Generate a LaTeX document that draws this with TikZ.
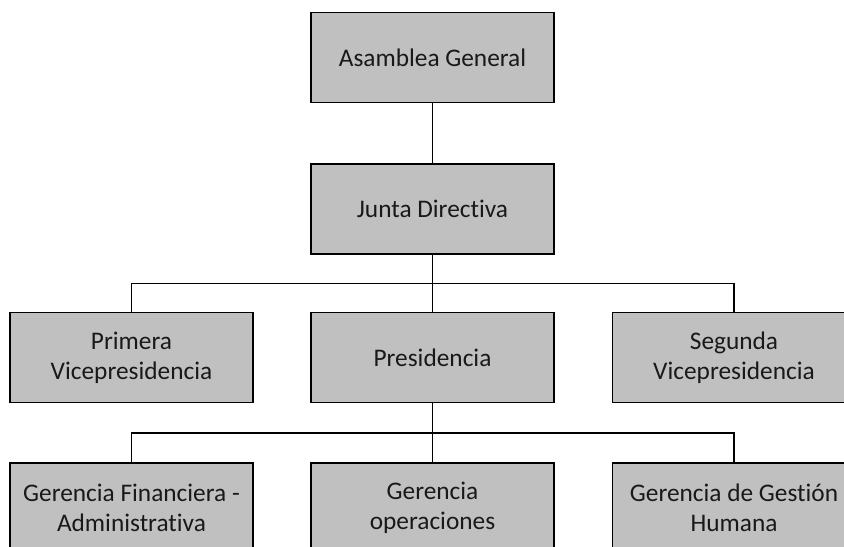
\documentclass[tikz,border=0pt]{standalone}
\usepackage{fontspec}
\setmainfont{Carlito}[Ligatures=NoCommon]
\begin{document}
\begin{tikzpicture}[x=0.75pt,y=-0.75pt,
  orgbox/.style={draw=black, line width=1.3pt, fill=boxgray, rectangle,
    minimum width=243*0.75pt, minimum height=90*0.75pt, inner sep=0pt,
    align=center, font=\fontsize{19}{22.5}\selectfont, text=black!90},
  conn/.style={draw=black, line width=1.3pt}]
\definecolor{boxgray}{RGB}{192,192,192}
\path[use as bounding box, clip] (0,0) rectangle (844,547);
\fill[white] (0,0) rectangle (844,547);
\node[orgbox] (asm) at (432.5,57.5) {Asamblea General};
\node[orgbox] (jd) at (432.5,209) {Junta Directiva};
\node[orgbox] (pv) at (131.5,357.5) {Primera\\Vicepresidencia};
\node[orgbox] (pres) at (432.5,357.5) {Presidencia};
\node[orgbox] (sv) at (734,357.5) {Segunda\\Vicepresidencia};
\node[orgbox] (gf) at (131.5,508) {Gerencia Financiera -\\Administrativa};
\node[orgbox] (go) at (432.5,508) {Gerencia\\operaciones};
\node[orgbox] (gh) at (734,508) {Gerencia de Gesti\'on\\Humana};
\coordinate (b1) at (432.5,283.5);
\coordinate (b2) at (432.5,433);
\draw[conn] (asm) -- (jd);
\draw[conn] (jd) -- (pres);
\draw[conn] (pv.north) |- (b1) -| (sv.north);
\draw[conn] (pres) -- (go);
\draw[conn] (gf.north) |- (b2) -| (gh.north);
\end{tikzpicture}
\end{document}
